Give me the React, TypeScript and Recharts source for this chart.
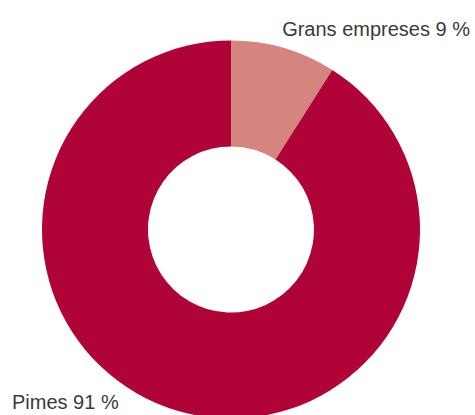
import { Pie, PieChart, Cell } from "recharts";

// Share of companies by size
const SEGMENTS = ["Grans empreses", "Pimes"];
const SHARES = [9, 91];
const COLORS = ["#d5847f", "#b00438"];

const TEXT = "#3a3a3a";

const data = SEGMENTS.map((name, i) => ({ name, value: SHARES[i] }));

/** Labels sit out at the corners rather than next to their slice. */
function renderLabel(props: any) {
  const { cx, cy, index, name, value } = props;
  const text = `${name} ${value} %`;
  if (index === 0) {
    return (
      <text x={cx + 239} y={cy - 194} textAnchor="end" fill={TEXT} fontSize={20}
        fontFamily="'Liberation Sans', Arial, sans-serif">
        {text}
      </text>
    );
  }
  return (
    <text x={cx - 219} y={cy + 179} textAnchor="start" fill={TEXT} fontSize={20}
      fontFamily="'Liberation Sans', Arial, sans-serif">
      {text}
    </text>
  );
}

export default function App() {
  return (
    <div style={{ position: "absolute", left: 0, top: 0, width: 475, height: 415, background: "#fff" }}>
      <PieChart width={475} height={415} margin={{ top: 0, right: 0, bottom: 0, left: 0 }}>
        <Pie
          data={data}
          dataKey="value"
          nameKey="name"
          cx={231}
          cy={229.5}
          innerRadius={83}
          outerRadius={189}
          startAngle={90}
          endAngle={-270}
          stroke="none"
          label={renderLabel}
          labelLine={false}
          isAnimationActive={false}
        >
          {data.map((d, i) => (
            <Cell key={d.name} fill={COLORS[i]} />
          ))}
        </Pie>
      </PieChart>
    </div>
  );
}
